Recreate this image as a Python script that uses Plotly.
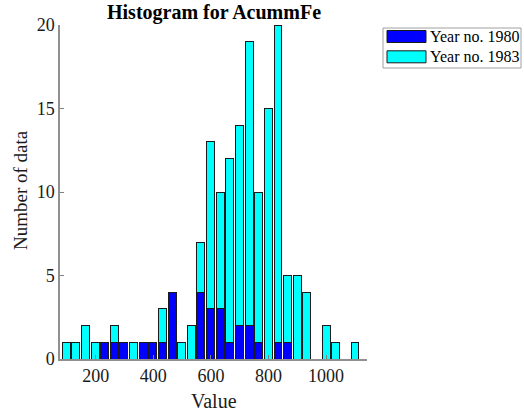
import plotly.graph_objects as go

# Histogram bin centres (Value) and counts per year
bin_centers = [97.4, 130.8, 164.3, 197.7, 231.1, 264.6, 298.0, 331.4, 364.8, 398.3,
               431.7, 465.1, 498.6, 532.0, 565.4, 598.9, 632.3, 665.7, 699.1, 732.6,
               766.0, 799.4, 832.9, 866.3, 899.7, 933.2, 966.6, 1000.0, 1033.4, 1066.9,
               1100.3]
counts_1980 = [0, 0, 0, 0, 1, 1, 1, 0, 1, 1, 1, 4, 0, 0, 4, 3, 3, 1, 2, 2,
               1, 0, 1, 1, 0, 0, 0, 0, 0, 0, 0]
counts_1983 = [1, 1, 2, 1, 0, 1, 0, 1, 0, 0, 2, 0, 1, 2, 3, 10, 7, 11, 12, 17,
               9, 15, 19, 4, 5, 4, 0, 2, 1, 0, 1]
series_names = ["Year no. 1980", "Year no. 1983"]
series_colors = ["#0000ff", "#00ffff"]
x_ticks = [200, 400, 600, 800, 1000]
y_ticks = [0, 5, 10, 15, 20]

FONT = "Liberation Serif, Times New Roman, serif"
W, H = 524, 412
L, R, T, B = 60, 157, 25, 53
PW, PH = W - L - R, H - T - B


def px(x):
    return (x - L) / PW


def py(y):
    return (H - B - y) / PH


fig = go.Figure()
for name, vals, col in zip(series_names, [counts_1980, counts_1983], series_colors):
    fig.add_trace(go.Bar(
        x=bin_centers, y=vals, name=name, width=27.5,
        marker=dict(color=col, line=dict(color="#1a1a1a", width=1)),
        showlegend=False,
    ))

# Legend box drawn by hand (wide colour patches)
shapes = [dict(type="rect", xref="paper", yref="paper",
               x0=px(383), x1=px(521), y0=py(68), y1=py(28),
               line=dict(color="#a0a0a0", width=1), fillcolor="white")]
annotations = []
for i, (name, col) in enumerate(zip(series_names, series_colors)):
    yc = 36.5 + i * 20.3
    shapes.append(dict(type="rect", xref="paper", yref="paper",
                       x0=px(387), x1=px(426), y0=py(yc + 6), y1=py(yc - 6),
                       line=dict(color="#1a1a1a", width=1), fillcolor=col))
    annotations.append(dict(xref="paper", yref="paper", x=px(428), y=py(yc),
                            xanchor="left", yanchor="middle", showarrow=False,
                            text=name, font=dict(family=FONT, size=16, color="black")))

annotations.append(dict(xref="paper", yref="paper", x=0.5, y=py(13),
                        xanchor="center", yanchor="middle", showarrow=False,
                        text="<b>Histogram for AcummFe</b>",
                        font=dict(family=FONT, size=20, color="black")))
annotations.append(dict(xref="paper", yref="paper", x=px(21), y=py(190),
                        xanchor="center", yanchor="middle", showarrow=False,
                        textangle=-90, text="Number of data",
                        font=dict(family=FONT, size=19, color="#1a1a1a")))
annotations.append(dict(xref="paper", yref="paper", x=0.5, y=py(401),
                        xanchor="center", yanchor="middle", showarrow=False,
                        text="Value",
                        font=dict(family=FONT, size=20, color="#1a1a1a")))

fig.update_layout(
    width=W, height=H,
    margin=dict(l=L, r=R, t=T, b=B),
    paper_bgcolor="white", plot_bgcolor="white",
    barmode="stack",
    font=dict(family=FONT, size=18, color="#1a1a1a"),
    shapes=shapes, annotations=annotations,
    xaxis=dict(range=[76, 1142], tickvals=x_ticks, ticks="inside", ticklen=4,
               tickcolor="#808080", showline=True, linecolor="#909090", linewidth=1.5,
               showgrid=False, zeroline=False),
    yaxis=dict(range=[0, 20], tickvals=y_ticks, ticks="inside", ticklen=4,
               tickcolor="#808080", showline=True, linecolor="#909090", linewidth=1.5,
               showgrid=False, zeroline=False),
)

fig.write_html("out.html")
